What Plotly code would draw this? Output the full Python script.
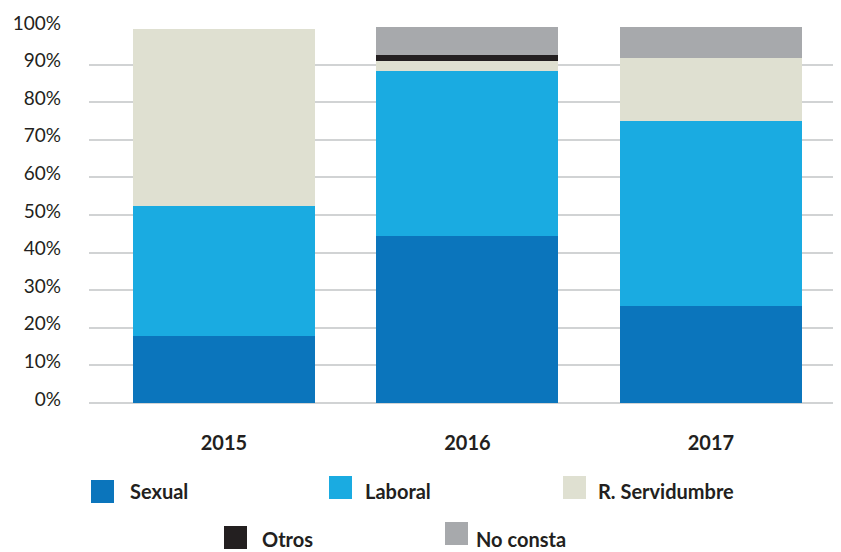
import plotly.graph_objects as go

# ---------------- data ----------------
years = ["2015", "2016", "2017"]
series_names = ["Sexual", "Laboral", "R. Servidumbre", "Otros", "No consta"]
sexual = [17.8, 44.4, 25.8]
laboral = [34.6, 43.9, 49.2]
servidumbre = [47.1, 2.7, 16.8]
otros = [0.0, 1.6, 0.0]
no_consta = [0.0, 7.4, 8.2]
y_tick_values = [0, 10, 20, 30, 40, 50, 60, 70, 80, 90, 100]
y_tick_labels = ["0%", "10%", "20%", "30%", "40%", "50%", "60%", "70%", "80%", "90%", "100%"]

series_values = [sexual, laboral, servidumbre, otros, no_consta]
colors = ["#0b75bc", "#1aabe1", "#dfe0d1", "#231f20", "#a7a9ac"]

# page has an 8px body margin, so the figure is 8px smaller
OFF = 8
W, H = 841 - OFF, 552 - OFF
L, R, T = 89 - OFF, 0, 27 - OFF
B = H - (403 - OFF)
PW, PH = W - L - R, H - T - B
TXT = "#231f20"

fig = go.Figure()
for name, vals, col in zip(series_names, series_values, colors):
    fig.add_trace(go.Bar(
        x=years, y=vals, name=name, marker=dict(color=col, line=dict(width=0)),
        showlegend=False, hoverinfo="x+y+name",
    ))

# ---------------- legend drawn as squares + labels ----------------
def px_x(px):
    return (px - OFF - L) / PW

def px_y(py):
    return (T + PH - (py - OFF)) / PH

legend_items = [
    # (square left, square top, text left, text center y) in page pixels
    (91, 480, 129, 491),
    (329, 476, 364, 491),
    (563, 476, 597, 491),
    (224, 526, 261, 539),
    (445, 522, 475, 539),
]
shapes = []
annotations = []
for (sx, sy, tx, ty), name, col in zip(legend_items, series_names, colors):
    shapes.append(dict(type="rect", xref="paper", yref="paper",
                       x0=px_x(sx), x1=px_x(sx + 23), y0=px_y(sy + 23), y1=px_y(sy),
                       fillcolor=col, line=dict(width=0), layer="above"))
    annotations.append(dict(xref="paper", yref="paper", x=px_x(tx), y=px_y(ty),
                            xanchor="left", yanchor="middle", showarrow=False,
                            text=name, borderpad=0,
                            font=dict(family="Lato", size=20, color=TXT, weight="bold")))

fig.update_layout(
    width=W, height=H,
    margin=dict(l=L, r=R, t=T, b=B, pad=0),
    barmode="stack",
    bargap=0.253,
    plot_bgcolor="white", paper_bgcolor="white",
    shapes=shapes, annotations=annotations,
    showlegend=False,
    xaxis=dict(
        type="category", range=[-0.554, 2.534],
        showgrid=False, zeroline=False, showline=False, ticks="",
        tickfont=dict(family="Lato", size=20, color=TXT, weight="bold"),
        ticklabelstandoff=26,
    ),
    yaxis=dict(
        range=[0, 100], tickmode="array", tickvals=y_tick_values, ticktext=y_tick_labels,
        showgrid=True, gridcolor="#d1d3d4", gridwidth=2,
        zeroline=True, zerolinecolor="#d1d3d4", zerolinewidth=2,
        showline=False, ticks="",
        tickfont=dict(family="Lato", size=19, color=TXT),
        ticklabelstandoff=27, ticklabelshift=-4,
    ),
)

fig.write_html("out.html")
